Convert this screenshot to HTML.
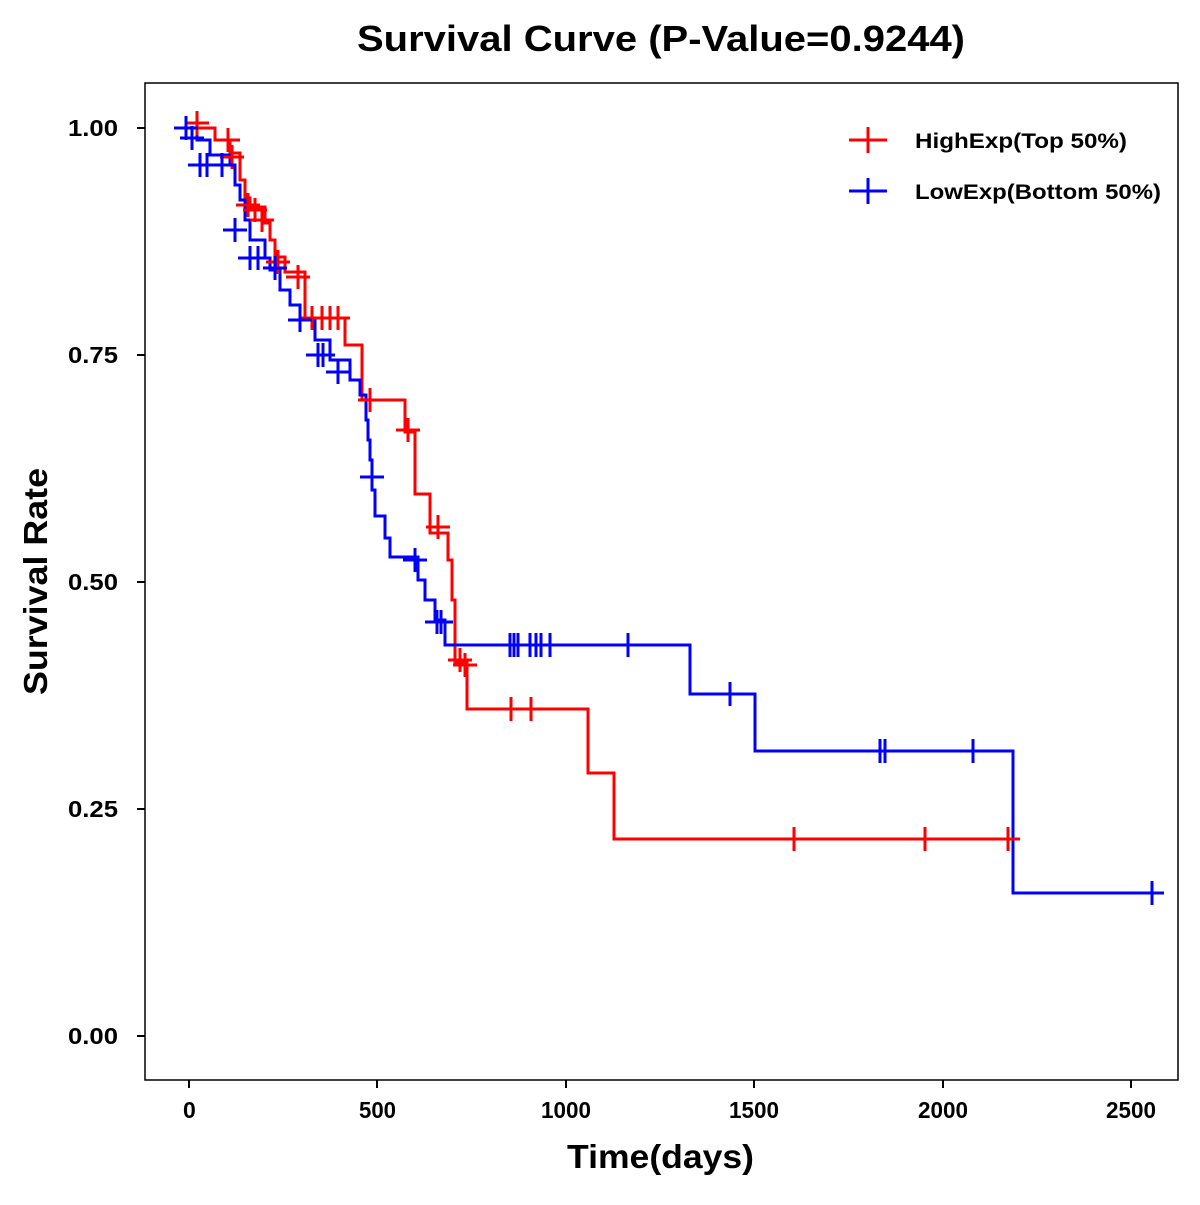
<!DOCTYPE html><html><head><style>body{margin:0;background:#fff}</style></head><body>
<svg width="1200" height="1200" xmlns="http://www.w3.org/2000/svg" font-family="Liberation Sans, Arial, sans-serif">
<text x="357" y="51" font-size="36" font-weight="bold" textLength="608" lengthAdjust="spacingAndGlyphs">Survival Curve (P-Value=0.9244)</text>
<rect x="145" y="83" width="1033" height="997" fill="none" stroke="#000" stroke-width="1.5"/>
<g stroke="#000" stroke-width="2">
<path d="M145 128h-8M145 355h-8M145 582h-8M145 809h-8M145 1036h-8"/>
<path d="M189 1080v8M377 1080v8M566 1080v8M754 1080v8M943 1080v8M1131 1080v8"/>
</g>
<g font-size="23" font-weight="bold">
<text x="68" y="136" textLength="50" lengthAdjust="spacingAndGlyphs">1.00</text><text x="68" y="363" textLength="50" lengthAdjust="spacingAndGlyphs">0.75</text><text x="68" y="590" textLength="50" lengthAdjust="spacingAndGlyphs">0.50</text><text x="68" y="817" textLength="50" lengthAdjust="spacingAndGlyphs">0.25</text><text x="68" y="1044" textLength="50" lengthAdjust="spacingAndGlyphs">0.00</text>
</g>
<g font-size="23" font-weight="bold">
<text x="183" y="1118">0</text><text x="359" y="1118" textLength="37" lengthAdjust="spacingAndGlyphs">500</text><text x="541" y="1118" textLength="50" lengthAdjust="spacingAndGlyphs">1000</text><text x="729" y="1118" textLength="50" lengthAdjust="spacingAndGlyphs">1500</text><text x="918" y="1118" textLength="50" lengthAdjust="spacingAndGlyphs">2000</text><text x="1106" y="1118" textLength="50" lengthAdjust="spacingAndGlyphs">2500</text>
</g>
<text x="567" y="1168" font-size="33" font-weight="bold" textLength="187" lengthAdjust="spacingAndGlyphs">Time(days)</text>
<text transform="translate(47,695) rotate(-90)" font-size="33" font-weight="bold" textLength="227" lengthAdjust="spacingAndGlyphs">Survival Rate</text>
<g fill="none" stroke-width="3">
<path stroke="#f00" d="M189 128H215V140H230V153H240V180H245V198H250V207H265V223H270V240H275V257H285V272H305V318H345V345H362V400H405V432H415V494H430V533H448V560H452V600H455V663H467V709H588V773H614V839H1013"/>
<path stroke="#00f" d="M189 128H197V140H210V155H230V165H235V185H240V200H245V220H250V240H265V258H270V270H280V290H290V305H300V320H315V340H330V360H350V380H360V395H366V420H368V440H370V460H372V490H375V516H385V538H390V557H418V580H425V600H435V620H445V645H690V694H755V751H1013V893H1155"/>
</g>
<g stroke="#f00" fill="none" stroke-width="3">
<path d="M-12 0H12M0 -12V12" transform="translate(197,123)"/><path d="M-12 0H12M0 -12V12" transform="translate(228,140)"/><path d="M-12 0H12M0 -12V12" transform="translate(232,157)"/><path d="M-12 0H12M0 -12V12" transform="translate(248,205)"/><path d="M-12 0H12M0 -12V12" transform="translate(255,210)"/><path d="M-12 0H12M0 -12V12" transform="translate(262,220)"/><path d="M-12 0H12M0 -12V12" transform="translate(278,262)"/><path d="M-12 0H12M0 -12V12" transform="translate(298,277)"/><path d="M-12 0H12M0 -12V12" transform="translate(312,318)"/><path d="M-12 0H12M0 -12V12" transform="translate(322,318)"/><path d="M-12 0H12M0 -12V12" transform="translate(330,318)"/><path d="M-12 0H12M0 -12V12" transform="translate(338,318)"/><path d="M-12 0H12M0 -12V12" transform="translate(370,400)"/><path d="M-12 0H12M0 -12V12" transform="translate(408,430)"/><path d="M-12 0H12M0 -12V12" transform="translate(438,527)"/><path d="M-12 0H12M0 -12V12" transform="translate(460,660)"/><path d="M-12 0H12M0 -12V12" transform="translate(465,665)"/><path d="M-12 0H12M0 -12V12" transform="translate(511,709)"/><path d="M-12 0H12M0 -12V12" transform="translate(531,709)"/><path d="M-12 0H12M0 -12V12" transform="translate(794,839)"/><path d="M-12 0H12M0 -12V12" transform="translate(925,839)"/><path d="M-12 0H12M0 -12V12" transform="translate(1008,839)"/>
</g>
<g stroke="#00f" fill="none" stroke-width="3">
<path d="M-12 0H12M0 -12V12" transform="translate(186,128)"/><path d="M-12 0H12M0 -12V12" transform="translate(192,138)"/><path d="M-12 0H12M0 -12V12" transform="translate(200,165)"/><path d="M-12 0H12M0 -12V12" transform="translate(207,165)"/><path d="M-12 0H12M0 -12V12" transform="translate(222,165)"/><path d="M-12 0H12M0 -12V12" transform="translate(235,230)"/><path d="M-12 0H12M0 -12V12" transform="translate(250,258)"/><path d="M-12 0H12M0 -12V12" transform="translate(258,258)"/><path d="M-12 0H12M0 -12V12" transform="translate(275,268)"/><path d="M-12 0H12M0 -12V12" transform="translate(300,320)"/><path d="M-12 0H12M0 -12V12" transform="translate(318,355)"/><path d="M-12 0H12M0 -12V12" transform="translate(323,355)"/><path d="M-12 0H12M0 -12V12" transform="translate(338,372)"/><path d="M-12 0H12M0 -12V12" transform="translate(372,477)"/><path d="M-12 0H12M0 -12V12" transform="translate(415,560)"/><path d="M-12 0H12M0 -12V12" transform="translate(437,622)"/><path d="M-12 0H12M0 -12V12" transform="translate(441,622)"/><path d="M-12 0H12M0 -12V12" transform="translate(510,645)"/><path d="M-12 0H12M0 -12V12" transform="translate(514,645)"/><path d="M-12 0H12M0 -12V12" transform="translate(518,645)"/><path d="M-12 0H12M0 -12V12" transform="translate(530,645)"/><path d="M-12 0H12M0 -12V12" transform="translate(536,645)"/><path d="M-12 0H12M0 -12V12" transform="translate(541,645)"/><path d="M-12 0H12M0 -12V12" transform="translate(550,645)"/><path d="M-12 0H12M0 -12V12" transform="translate(628,645)"/><path d="M-12 0H12M0 -12V12" transform="translate(730,694)"/><path d="M-12 0H12M0 -12V12" transform="translate(880,751)"/><path d="M-12 0H12M0 -12V12" transform="translate(885,751)"/><path d="M-12 0H12M0 -12V12" transform="translate(973,751)"/><path d="M-12 0H12M0 -12V12" transform="translate(1152,893)"/>
</g>
<path d="M849 140H887M868 127V153" stroke="#f00" stroke-width="3"/>
<path d="M849 191H887M868 178V204" stroke="#00f" stroke-width="3"/>
<text x="915" y="148" font-size="21" font-weight="bold" textLength="212" lengthAdjust="spacingAndGlyphs">HighExp(Top 50%)</text>
<text x="915" y="199" font-size="21" font-weight="bold" textLength="246" lengthAdjust="spacingAndGlyphs">LowExp(Bottom 50%)</text>
</svg>
</body></html>
